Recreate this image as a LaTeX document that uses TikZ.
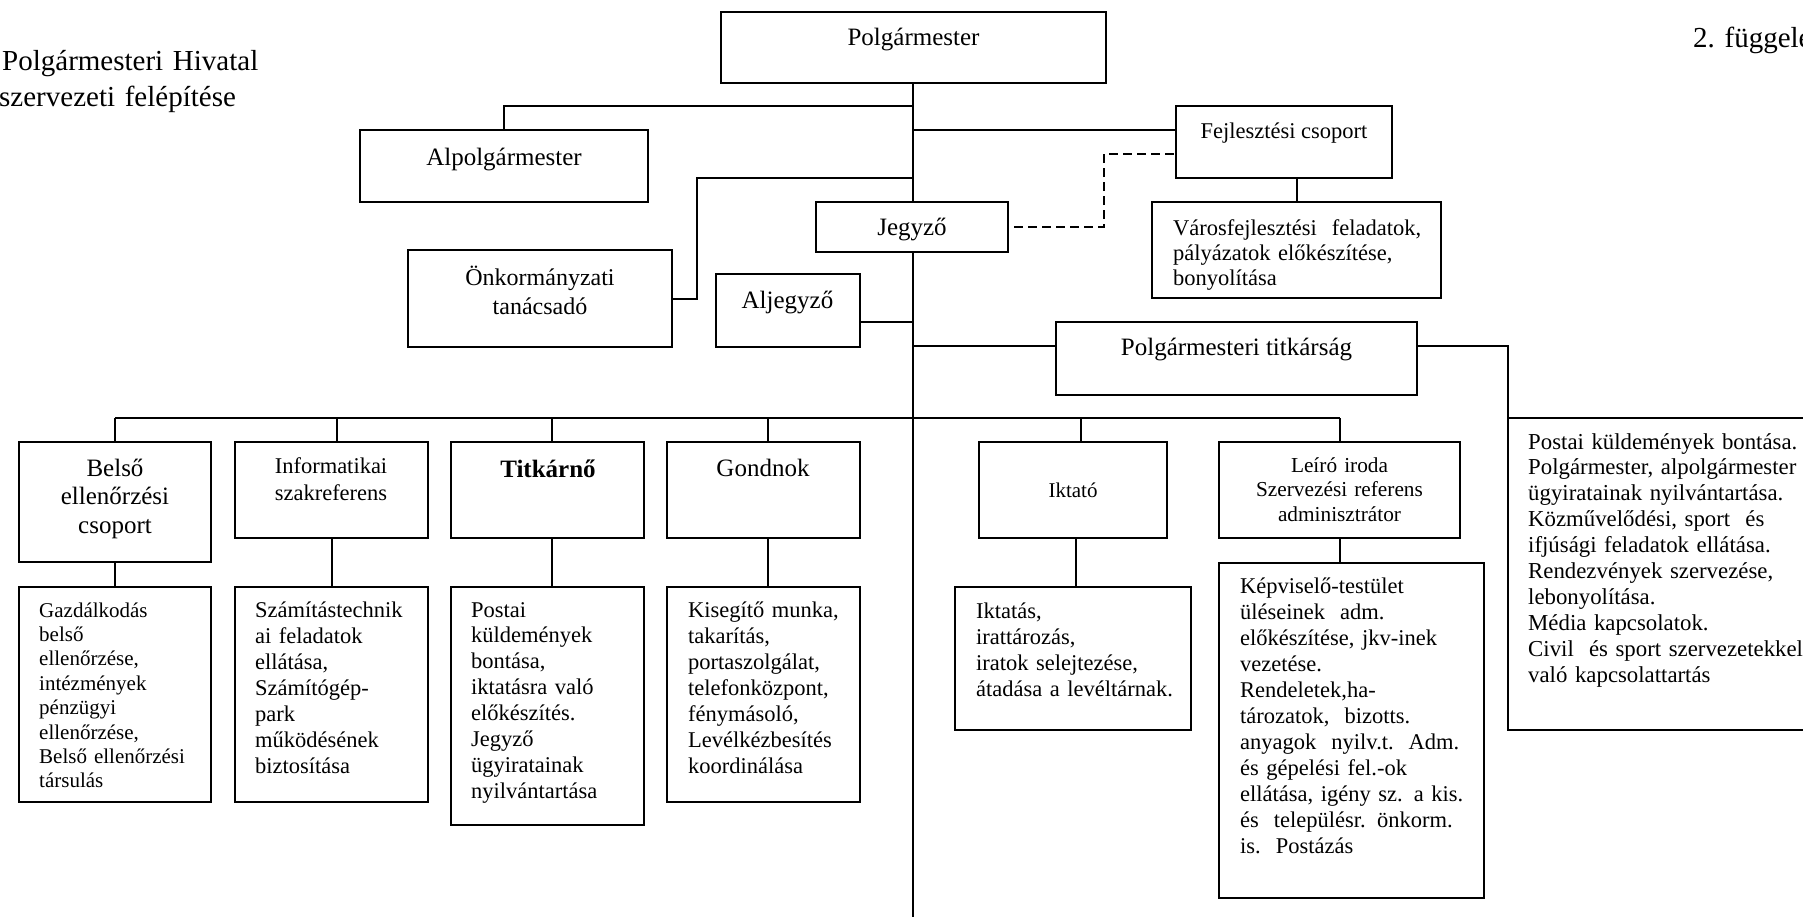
\documentclass[tikz,border=0pt]{standalone}
\usepackage{fontspec}
\setmainfont{Liberation Serif}
\newcommand\mybox[5]{\node[box, minimum width={(#3)-(#2)}, minimum height={(#5)-(#4)}] (#1) at ({((#2)+(#3))/2},{((#4)+(#5))/2}) {};}
\tikzset{
  box/.style={draw, line width=2pt, inner sep=0pt, outer sep=0pt},
  conn/.style={line width=2pt},
  dashconn/.style={line width=2pt, dash pattern=on 9pt off 5pt},
  lbl/.style={inner sep=0pt, anchor=base},
  ml/.style={inner sep=0pt, anchor=base west, align=left},
  mc/.style={inner sep=0pt, anchor=base, align=center},
  fL/.style={font=\fontsize{25}{29}\selectfont},
  fM/.style={font=\fontsize{22.5}{26}\selectfont},
  fS/.style={font=\fontsize{21}{24.4}\selectfont},
}
\begin{document}
\begin{tikzpicture}[x=1pt,y=-1pt]
\useasboundingbox (0,0) rectangle (1803,916);
\clip (0,0) rectangle (1803,916);

% boxes
\mybox{pm}{721}{1106}{12}{83}
\mybox{alp}{360}{648}{130}{202}
\mybox{fej}{1176}{1392}{106}{178}
\mybox{jegy}{816}{1008}{202}{252}
\mybox{vf}{1152}{1441}{202}{298}
\mybox{onk}{408}{672}{250}{347}
\mybox{alj}{716}{860}{274}{347}
\mybox{tit}{1056}{1417}{322}{395}
\mybox{bel}{19}{211}{442}{562}
\mybox{inf}{235}{428}{442}{538}
\mybox{tk}{451}{644}{442}{538}
\mybox{gon}{667}{860}{442}{538}
\mybox{ikt}{979}{1167}{442}{538}
\mybox{lei}{1219}{1460}{442}{538}
\mybox{gaz}{19}{211}{587}{802}
\mybox{szam}{235}{428}{587}{802}
\mybox{pos}{451}{644}{587}{825}
\mybox{kis}{667}{860}{587}{802}
\mybox{iktd}{955}{1191}{587}{730}
\mybox{kep}{1219}{1484}{563}{898}
\mybox{rb}{1508}{1830}{418}{730}

% trunk coordinates
\coordinate (tA) at (913,106);
\coordinate (tB) at (913,130);
\coordinate (tC) at (913,178);
\coordinate (tD) at (913,322);
\coordinate (tE) at (913,346);
\coordinate (bus) at (913,418);
\coordinate (bot) at (913,930);
\coordinate (oc) at (697,178);
\coordinate (dc) at (1104,154);

% connectors
\draw[conn] (pm.south -| tA) -- (jegy.north -| tA);
\draw[conn] (jegy.south -| tA) -- (bot);
\draw[conn] (alp.north) |- (tA);
\draw[conn] (tB) -- (tB -| fej.west);
\draw[conn] (onk.east) -| (oc) -- (tC);
\draw[conn] (tD -| alj.east) -- (tD);
\draw[conn] (tE) -- (tE -| tit.west);
\draw[conn] (tE -| tit.east) -| (rb.north west);
\draw[dashconn] ([xshift=6pt]jegy.east) -| (dc) -- (dc -| fej.west);
\draw[conn] (vf.north) -- (vf.north |- fej.south);

% lower bus
\draw[conn] (bel.north |- bus) -- (lei.north |- bus);
\path ([xshift=5.5pt]inf.north) coordinate (ic);
\path ([xshift=4.5pt]tk.north) coordinate (tkc);
\path ([xshift=4.5pt]gon.north) coordinate (gc);
\path ([xshift=8pt]ikt.north) coordinate (ikc);
\draw[conn] (bel.north) -- (bel.north |- bus);
\draw[conn] (ic) -- (ic |- bus);
\draw[conn] (tkc) -- (tkc |- bus);
\draw[conn] (gc) -- (gc |- bus);
\draw[conn] (ikc) -- (ikc |- bus);
\draw[conn] (lei.north) -- (lei.north |- bus);

% children
\draw[conn] (bel.south) -- (gaz.north);
\draw[conn] (inf.south) -- (szam.north);
\draw[conn] ([xshift=4.5pt]tk.south) -- ([xshift=4.5pt]pos.north);
\draw[conn] ([xshift=4.5pt]gon.south) -- ([xshift=4.5pt]kis.north);
\draw[conn] ([xshift=3pt]ikt.south) -- ([xshift=3pt]iktd.north);
\draw[conn] (lei.south) -- (lei.south |- kep.north);

% texts
\node[ml, text width=320pt, font=\fontsize{29}{36}\selectfont] (ttitle) at (-1,70) {\hspace*{3pt}Polgármesteri Hivatal\\szervezeti felépítése};
\node[lbl, anchor=base west, font=\fontsize{29}{34}\selectfont] (tfug) at (1693,47) {2. függelék};

\node[lbl, fL] (tpm) at (913.5,45) {Polgármester};
\node[lbl, fL] (talp) at (504,165) {Alpolgármester};
\node[lbl, fM] (tfej) at (1284,138) {Fejlesztési csoport};
\node[lbl, fL] (tjeg) at (912,235) {Jegyző};
\node[ml, text width=264pt, font=\fontsize{22.5}{25}\selectfont] (tvf) at (1173,235) {Városfejlesztési\ \ feladatok,\\pályázatok előkészítése,\\bonyolítása};
\node[mc, text width=255pt, font=\fontsize{24}{29}\selectfont] (tonk) at (540,285) {Önkormányzati\\tanácsadó};
\node[lbl, fL] (talj) at (787.5,308) {Aljegyző};
\node[lbl, fL] (ttit) at (1236.5,355) {Polgármesteri titkárság};

\node[mc, text width=185pt, font=\fontsize{25}{28.5}\selectfont] (tbel) at (115,476) {Belső\\ellenőrzési\\csoport};
\node[mc, text width=185pt, font=\fontsize{22.5}{27}\selectfont] (tinf) at (331,473) {Informatikai\\szakreferens};
\node[lbl, font=\fontsize{25}{29}\selectfont\bfseries] (ttk) at (548,477) {Titkárnő};
\node[lbl, fL] (tgon) at (763,476) {Gondnok};
\node[lbl, font=\fontsize{21}{24}\selectfont] (tikt) at (1073,497) {Iktató};
\node[mc, text width=235pt, font=\fontsize{21.3}{24.5}\selectfont] (tlei) at (1339.5,472) {Leíró iroda\\Szervezési referens\\adminisztrátor};

\node[ml, text width=168pt, fS] (tgaz) at (39,617) {Gazdálkodás\\belső\\ellenőrzése,\\intézmények\\pénzügyi\\ellenőrzése,\\Belső ellenőrzési\\társulás};
\node[ml, text width=168pt, fM] (tszam) at (255,617) {Számítástechnik\\ai feladatok\\ellátása,\\Számítógép-\\park\\működésének\\biztosítása};
\node[ml, text width=168pt, font=\fontsize{22.5}{25.9}\selectfont] (tpos) at (471,617) {Postai\\küldemények\\bontása,\\iktatásra való\\előkészítés.\\Jegyző\\ügyiratainak\\nyilvántartása};
\node[ml, text width=168pt, fM] (tkis) at (688,617) {Kisegítő munka,\\takarítás,\\portaszolgálat,\\telefonközpont,\\fénymásoló,\\Levélkézbesítés\\koordinálása};
\node[ml, text width=212pt, font=\fontsize{22.5}{26.3}\selectfont] (tiktd) at (976,618) {Iktatás,\\irattározás,\\iratok selejtezése,\\átadása a levéltárnak.};
\node[ml, text width=240pt, fM] (tkep) at (1240,593) {Képviselő-testület\\üléseinek\ \ adm.\\előkészítése, jkv-inek\\vezetése.\\Rendeletek,ha-\\tározatok,\ \ bizotts.\\anyagok\ \ nyilv.t.\ \ Adm.\\és gépelési fel.-ok\\ellátása, igény sz. a kis.\\és\ \ településr. önkorm.\\is.\ \ Postázás};
\node[ml, text width=280pt, font=\fontsize{22.8}{25.9}\selectfont] (trb) at (1528,449) {Postai küldemények bontása.\\Polgármester, alpolgármester\\ügyiratainak nyilvántartása.\\Közművelődési, sport\ \ és\\ifjúsági feladatok ellátása.\\Rendezvények szervezése,\\lebonyolítása.\\Média kapcsolatok.\\Civil\ \ és sport szervezetekkel\\való kapcsolattartás};
\end{tikzpicture}
\end{document}
